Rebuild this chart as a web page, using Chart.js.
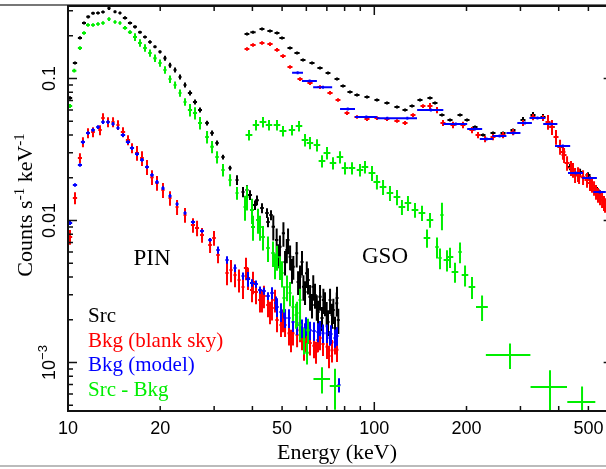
<!DOCTYPE html>
<html>
<head>
<meta charset="utf-8">
<script src="https://cdn.jsdelivr.net/npm/chart.js@4.4.1/dist/chart.umd.min.js"></script>
<style>
html, body { margin: 0; padding: 0; background: #fff; overflow: hidden; }
canvas { display: block; }
</style>
</head>
<body>
<canvas id="spec" width="620" height="469"></canvas>
<script>
// ---- PIN, source (black)
const srcPinKeV = [10.15,10.54,10.94,11.28,11.64,12.07,12.53,13.01,13.61,14.24,14.78,15.35,15.94,16.55,17.18,17.84,18.52,19.23,19.97,20.73,21.53,22.36,23.21,24.10,25.02,25.98,26.98,28.44,29.53,30.66,32.07,33.81,35.63,37.27,38.40,41.40,44.64,46.8,48.0,49.2,50.5,51.8,53.1,54.4,55.8,57.2,58.7,60.2,61.7,63.2,64.9,66.5,68.2,69.9,71.7,73.5,75.4,76.3,
  39.29,40.79,42.99,44.98,46.00,48.50,51.12,52.29,53.87,56.38,58.08,59.41,60.76,62.61,64.04,65.50,67.50,69.02,70.62,72.77,74.43,75.55];
const srcPinErrKeV = [0.17,0.17,0.17,0.17,0.17,0.17,0.17,0.17,0.17,0.17,0.17,0.25,0.25,0.25,0.25,0.25,0.25,0.25,0.25,0.25,0.25,0.25,0.25,0.25,0.4,0.4,0.4,0.4,0.4,0.4,0.4,0.4,0.4,0.4,0.4,0.6,0.6,0.6,0.6,0.6,0.6,0.6,0.6,0.6,0.6,0.6,0.6,0.8,0.8,0.8,0.8,0.8,0.8,0.8,0.8,0.8,0.8,0.8,
  0.6,0.6,0.6,0.6,0.6,0.6,0.6,0.6,0.6,0.6,0.6,0.6,0.8,0.8,0.8,0.8,0.8,0.8,0.8,0.8,0.8,0.8];
const srcPinCts = [0.0729,0.1285,0.193,0.246,0.272,0.288,0.289,0.294,0.312,0.295,0.289,0.267,0.246,0.231,0.212,0.196,0.181,0.167,0.154,0.139,0.124,0.115,0.1026,0.0900,0.0791,0.0684,0.0600,0.0486,0.0413,0.0352,0.0280,0.0234,0.0193,0.0159,0.0164,0.0139,0.0113,0.00904,0.00729,0.00654,0.00813,0.00620,0.00556,0.00473,0.00587,0.00402,0.00342,0.00425,0.00291,0.00342,0.00247,0.00291,0.00275,0.00222,0.00275,0.00234,0.00261,0.00199,
  0.01512,0.01285,0.01225,0.00976,0.01093,0.00571,0.00510,0.00729,0.00448,0.00369,0.00510,0.00314,0.00381,0.00254,0.00299,0.00227,0.00206,0.00262,0.00193,0.00216,0.00175,0.00285];
const srcPinErrCts = [0.002,0.003,0.005,0.006,0.007,0.007,0.007,0.007,0.008,0.007,0.007,0.007,0.006,0.006,0.005,0.005,0.005,0.004,0.004,0.0056,0.005,0.0046,0.0041,0.0036,0.0032,0.0027,0.0024,0.0019,0.0017,0.0014,0.0011,0.0009,0.0015,0.0013,0.0013,0.0011,0.0009,0.0018,0.0015,0.0013,0.0016,0.0012,0.0011,0.0009,0.0012,0.0008,0.0007,0.0009,0.0006,0.0007,0.0005,0.0006,0.00055,0.00045,0.00055,0.00047,0.0005,0.0004,
  0.0012,0.001,0.001,0.0008,0.0009,0.0011,0.001,0.0015,0.0009,0.0007,0.001,0.0006,0.0008,0.0005,0.0006,0.00045,0.0004,0.0005,0.0004,0.00043,0.00035,0.00057];

// ---- PIN, background from blank sky (red)
const skyPinKeV = [10.15,10.54,10.94,11.19,11.62,12.07,12.72,13.01,13.51,14.03,14.56,15.12,15.70,16.18,16.80,17.44,18.11,18.80,19.52,20.42,21.53,22.70,24.10,25.59,27.39,29.09,30.89,33.05,35.10,37.27,39.88,42.35,44.98,48.13,51.12,54.28,58.08,61.68,65.50,70.09,75.55,
  26.38,29.97,34.06,36.17,38.70,41.09,43.63,46.35,49.60,52.67,55.96,59.84,63.56,68.01,72.77,
  38.11,40.18,42.99,45.66,47.40,50.35,53.46,57.22,58.96,64.53,66.49,71.15,74.43];
const skyPinErrKeV = [0.17,0.17,0.17,0.17,0.17,0.17,0.17,0.17,0.17,0.17,0.17,0.25,0.25,0.25,0.25,0.25,0.25,0.25,0.25,0.25,0.25,0.25,0.25,0.4,0.4,0.4,0.4,0.4,0.4,0.4,0.6,0.6,0.6,0.6,0.6,0.6,0.6,0.8,0.8,0.8,0.8,
  0.4,0.4,0.4,0.4,0.6,0.6,0.6,0.6,0.6,0.6,0.6,0.8,0.8,0.8,0.8,
  0.6,0.6,0.6,0.6,0.6,0.6,0.6,0.6,0.6,0.8,0.8,0.8,0.8];
const skyPinCts = [0.00766,0.0144,0.0275,0.0357,0.0413,0.0420,0.0434,0.0527,0.0494,0.0494,0.0471,0.0420,0.0369,0.0324,0.0299,0.0275,0.0238,0.0202,0.0184,0.0164,0.0144,0.01245,0.01094,0.00929,0.00791,0.00671,0.00571,0.00427,0.00413,0.0034,0.00324,0.00275,0.00254,0.00199,0.00184,0.00161,0.00149,0.00137,0.00144,0.00129,0.00123,
  0.00886,0.00753,0.00448,0.00381,0.00394,0.00314,0.00294,0.00242,0.00184,0.00161,0.00156,0.00144,0.00131,0.00135,0.00122,
  0.00463,0.00369,0.00275,0.00227,0.00275,0.00199,0.00144,0.00169,0.00126,0.00119,0.00149,0.00111,0.00139];
const skyPinErrCts = [0.0009,0.0014,0.0022,0.0029,0.0033,0.0034,0.0035,0.0042,0.004,0.004,0.0038,0.0034,0.003,0.0026,0.0036,0.0033,0.0029,0.0024,0.0022,0.002,0.0017,0.0015,0.0013,0.0011,0.00095,0.0008,0.0007,0.00077,0.00074,0.0006,0.00058,0.0005,0.00046,0.00036,0.00033,0.00029,0.00027,0.00025,0.00026,0.00023,0.00022,
  0.0011,0.0009,0.0008,0.0007,0.0007,0.00057,0.00053,0.00044,0.00033,0.00029,0.00028,0.00026,0.00024,0.00024,0.00022,
  0.00083,0.00066,0.0005,0.00041,0.0005,0.00036,0.00026,0.0003,0.00023,0.00021,0.00027,0.0002,0.00025];

// ---- PIN, background model (blue)
const modelPinKeV = [10.15,10.54,10.94,11.19,11.62,12.07,12.53,13.01,13.51,14.03,14.56,15.12,15.70,16.18,16.80,17.44,18.11,18.80,19.52,20.42,21.53,22.70,24.10,25.59,27.39,29.09,30.89,33.05,35.10,37.27,39.88,42.35,44.98,48.13,51.12,54.28,58.08,61.68,65.50,70.09,75.55,76.69,
  41.09,43.63,46.35,49.60,52.67,55.96,59.84,63.56,68.01,72.23,74.43,
  38.70,47.76,50.74,57.22,59.41,66.49,71.69];
const modelPinErrKeV = [0.17,0.17,0.17,0.17,0.17,0.17,0.17,0.17,0.17,0.17,0.17,0.25,0.25,0.25,0.25,0.25,0.25,0.25,0.25,0.25,0.25,0.25,0.25,0.4,0.4,0.4,0.4,0.4,0.4,0.4,0.6,0.6,0.6,0.6,0.6,0.6,0.6,0.8,0.8,0.8,0.8,0.3,
  0.6,0.6,0.6,0.6,0.6,0.6,0.8,0.8,0.8,0.8,0.8,
  0.6,0.6,0.6,0.6,0.6,0.8,0.8];
const modelPinCts = [0.0096,0.0178,0.0246,0.0357,0.0413,0.0434,0.0455,0.0494,0.0494,0.0479,0.0448,0.0400,0.0357,0.0324,0.0294,0.0267,0.0238,0.0209,0.0187,0.0169,0.0149,0.01306,0.0113,0.00976,0.00844,0.0073,0.0062,0.00527,0.00462,0.00406,0.00363,0.00324,0.00294,0.00246,0.00206,0.00193,0.00175,0.00169,0.00164,0.00161,0.00154,0.000695,
  0.00357,0.00319,0.00309,0.00227,0.00206,0.00184,0.00181,0.00167,0.00161,0.00159,0.00149,
  0.00387,0.00262,0.00234,0.0019,0.00169,0.00175,0.00149];
const modelPinErrCts = [0.0003,0.0005,0.0007,0.0011,0.0012,0.0013,0.0014,0.0015,0.0015,0.0014,0.0013,0.0012,0.0011,0.001,0.0009,0.0008,0.0007,0.0006,0.0006,0.0005,0.00045,0.0004,0.00034,0.0003,0.00025,0.00022,0.00037,0.00032,0.00028,0.00024,0.00022,0.00019,0.00018,0.00037,0.00031,0.00029,0.00026,0.00025,0.00025,0.00024,0.00023,0.00008,
  0.00021,0.00019,0.0003,0.00034,0.00031,0.00028,0.00027,0.00025,0.00024,0.00024,0.00022,
  0.00046,0.0003,0.00028,0.00023,0.0002,0.00021,0.00018];

// ---- PIN, source minus background (green)
const netPinKeV = [10.15,10.48,10.94,11.28,11.62,12.07,12.53,13.01,13.61,14.24,14.78,15.35,15.94,16.55,17.18,17.84,18.52,19.23,19.97,20.73,21.53,22.36,23.21,24.10,25.02,25.98,26.98,28.44,29.53,30.66,32.07,33.81,35.63,37.84,40.18,43.32,46.70,49.23,51.88,54.28,57.22,60.31,67.50,74.43,
  38.40,39.88,42.35,48.13,49.98,53.06,55.96,57.22,60.76,
  41.72,44.98,47.40,50.74,55.54,58.96];
const netPinErrKeV = [0.17,0.17,0.17,0.17,0.17,0.17,0.17,0.17,0.17,0.17,0.17,0.25,0.25,0.25,0.25,0.25,0.25,0.25,0.25,0.25,0.25,0.25,0.25,0.25,0.4,0.4,0.4,0.4,0.4,0.4,0.4,0.4,0.4,0.4,0.6,0.6,0.6,0.6,0.6,0.6,0.6,0.8,4.2,2.9,
  0.4,0.6,0.6,0.6,0.6,0.6,0.6,0.6,0.8,
  0.6,0.6,0.6,0.6,0.6,0.6];
const netPinCts = [0.0640,0.1135,0.164,0.209,0.238,0.238,0.242,0.246,0.262,0.250,0.246,0.227,0.212,0.196,0.178,0.164,0.151,0.139,0.1285,0.115,0.099,0.0900,0.0791,0.0684,0.0600,0.0571,0.0486,0.0387,0.0330,0.0280,0.0227,0.0193,0.0156,0.01245,0.0090,0.00766,0.0059,0.00471,0.0034,0.00246,0.00184,0.00117,0.000766,0.000684,
  0.01464,0.01185,0.00900,0.00553,0.00427,0.00309,0.00223,0.00275,0.00169,
  0.01008,0.0064,0.00486,0.00285,0.00216,0.00144];
const netPinErrCts = [0.002,0.0034,0.005,0.006,0.007,0.007,0.007,0.007,0.008,0.0075,0.0074,0.0068,0.0064,0.012,0.011,0.01,0.009,0.0083,0.0077,0.0069,0.0059,0.0054,0.0047,0.0041,0.006,0.0057,0.0049,0.0039,0.0033,0.0028,0.0023,0.0019,0.0016,0.0025,0.0018,0.0015,0.0012,0.0009,0.0007,0.0005,0.0004,0.0002,0.00016,0.00022,
  0.0029,0.0024,0.0018,0.0011,0.0009,0.0006,0.00045,0.00055,0.00034,
  0.002,0.0013,0.001,0.0006,0.00043,0.0003];

// ---- GSO, source (black)
const srcGsoKeV = [38.40,40.18,42.99,45.66,48.13,49.98,53.06,55.96,58.52,62.61,66.49,70.62,75.55,79.04,83.31,87.81,94.66,102.0,110.0,118.6,126.0,132.8,141.0,152.0,157.8,166.3,176.7,190.5,200.8,213.2,226.4,244.1,263.2,283.7,305.8,329.7,355.5,380.4,404.0,435.6,469.6,498.6,533.4,558.1];
const srcGsoErrKeV = [0.7,0.8,0.8,0.9,0.9,1.0,1.0,1.1,1.1,1.2,1.3,1.3,1.4,1.5,1.6,1.7,1.8,1.9,2.1,2.3,2.4,2.5,2.7,2.9,3.0,3.2,3.4,3.6,3.8,4.1,4.3,4.6,5.0,5.4,5.8,6.3,6.8,7.2,7.7,8.3,8.9,9.5,10,10.6];
const srcGsoCts = [0.2056,0.212,0.2234,0.2163,0.209,0.193,0.164,0.151,0.135,0.1285,0.1186,0.1094,0.0992,0.0885,0.0804,0.0766,0.0741,0.0706,0.0671,0.0630,0.0600,0.0640,0.0706,0.0729,0.0671,0.0553,0.0510,0.0553,0.0510,0.0455,0.0400,0.0413,0.0413,0.0434,0.0510,0.0553,0.0536,0.0455,0.0330,0.0238,0.0220,0.0209,0.0164,0.0139];
const srcGsoErrCts = [0.0041,0.0042,0.0045,0.0043,0.0042,0.0039,0.0033,0.003,0.0027,0.0026,0.0024,0.0022,0.002,0.0018,0.0016,0.0015,0.0015,0.0014,0.0013,0.0013,0.0012,0.0013,0.0014,0.0015,0.0013,0.0011,0.001,0.0011,0.001,0.0009,0.0008,0.0008,0.0008,0.0009,0.0026,0.0028,0.0027,0.0023,0.0017,0.0012,0.0011,0.001,0.0008,0.0007];

// ---- GSO, background from blank sky (red)
const skyGsoKeV = [38.40,40.18,42.99,45.66,48.13,50.35,53.06,57.22,61.68,66.49,71.69,76.12,81.45,87.81,94.66,102.0,110.0,118.6,126.0,133.8,144.2,152.0,160.2,167.6,180.7,194.8,208.4,218.1,229.9,244.1,263.2,283.7,305.8,329.7,355.5,380.4,404.0,425.9,452.3,480.3,513.8,545.6,566.6,
  392.0,416.4,438.8,466.1,494.9,529.5,554.0,
  369.1,413.0,445.4,462.4,506.1,521.7,537.5,562.3];
const skyGsoErrKeV = [0.7,0.8,0.8,0.9,0.9,1.0,1.0,1.1,1.2,1.3,1.4,1.4,1.5,1.7,1.8,1.9,2.1,2.3,2.4,2.5,2.7,2.9,3.0,3.2,3.4,3.7,4.0,4.1,4.4,4.6,5.0,5.4,5.8,6.3,6.8,7.2,7.7,8.1,8.6,9.1,9.8,10.4,10.8,
  7.4,7.9,8.3,8.9,9.4,10.1,10.5,
  7.0,7.8,8.4,8.8,9.6,9.9,10.2,10.7];
const skyGsoCts = [0.1614,0.1722,0.178,0.175,0.159,0.144,0.1205,0.0992,0.0929,0.0871,0.0791,0.0706,0.0571,0.0536,0.0519,0.0527,0.0519,0.0502,0.0486,0.0553,0.0640,0.0640,0.0600,0.0486,0.0471,0.0471,0.0434,0.0400,0.0375,0.0387,0.0400,0.0420,0.0486,0.0536,0.0527,0.0455,0.0330,0.0254,0.0209,0.0202,0.0178,0.01462,0.01285,
  0.0387,0.0289,0.0234,0.0206,0.0193,0.0159,0.01394,
  0.0494,0.0304,0.0227,0.0212,0.01836,0.01693,0.01512,0.01328];
const skyGsoErrCts = [0.0048,0.0052,0.0053,0.0053,0.0048,0.0043,0.0036,0.003,0.0028,0.0026,0.0024,0.0021,0.0017,0.0016,0.0016,0.0016,0.0016,0.0015,0.0015,0.0017,0.0019,0.0032,0.003,0.0024,0.0024,0.0024,0.0022,0.002,0.0019,0.0019,0.002,0.0021,0.0024,0.0027,0.0026,0.0055,0.004,0.003,0.0025,0.0024,0.0021,0.0018,0.0015,
  0.0046,0.0035,0.0028,0.0025,0.0023,0.0019,0.0017,
  0.0059,0.0036,0.0027,0.0025,0.0022,0.002,0.0018,0.0016];

// ---- GSO, background model (blue)
const modelGsoKeV = [56.2,61.5,68.0,81.9,94.2,110.3,128.2,153,184.5,213,232.5,256.5,285,310,341,376,412.5,454.5,505,544.5];
const modelGsoErrKeV = [2.3,3.45,4.85,4.6,7.75,8.3,9.65,15,16.5,12,11.5,13.5,15,17,20,20,23.5,25.5,28,25.5];
const modelGsoCts = [0.1099,0.0960,0.0867,0.0610,0.0536,0.0525,0.0525,0.0600,0.0479,0.0441,0.0375,0.0394,0.0413,0.0486,0.0527,0.0479,0.0335,0.0216,0.0199,0.0159];
const modelGsoErrCts = [0.0011,0.001,0.0009,0.0006,0.0005,0.0005,0.0005,0.0006,0.0005,0.0004,0.0004,0.0004,0.0004,0.0005,0.0005,0.0005,0.0003,0.0002,0.0002,0.0002];

// ---- GSO, source minus background (green)
const netGsoKeV = [38.99,41.09,43.32,45.32,48.13,50.35,53.87,56.79,59.41,61.68,65.01,67.50,70.09,73.32,77.27,80.24,84.57,89.82,93.24,98.29,102.0,106.8,112.5,118.6,123.1,128.8,135.8,143.1,152.0,160.2,163.9,166.3,172.7,176.7,183.4,190.5,197.8,208.4,224.8,277.3,374.7,476.7,148.6];
const netGsoErrKeV = [1.0,1.0,1.1,1.1,1.2,1.3,1.3,1.4,1.5,1.5,1.6,1.7,1.8,1.8,1.9,2.0,2.1,2.2,2.3,2.5,2.6,2.7,2.8,3.0,3.1,3.2,3.4,3.6,3.8,2.0,2.0,2.0,4.3,4.4,4.6,2.4,4.9,5.2,10,46,51,50,3.7];
const netGsoCts = [0.0400,0.0471,0.0494,0.0471,0.0471,0.0427,0.0434,0.0462,0.0369,0.0352,0.0340,0.0262,0.0299,0.0254,0.0280,0.0234,0.0234,0.0227,0.0238,0.0216,0.0187,0.0172,0.0156,0.01462,0.01245,0.01327,0.01186,0.0113,0.0101,0.0065,0.00544,0.01094,0.00527,0.00553,0.00434,0.0060,0.00413,0.0034,0.00246,0.00113,0.000671,0.000527,0.00753];
const netGsoErrCts = [0.0034,0.004,0.0042,0.004,0.004,0.0036,0.0037,0.0039,0.0037,0.0035,0.0034,0.0026,0.003,0.0025,0.0028,0.0023,0.0023,0.0023,0.0024,0.0026,0.0022,0.0021,0.0019,0.0018,0.0015,0.0016,0.0014,0.0014,0.0012,0.0011,0.0009,0.0024,0.0009,0.0009,0.0007,0.001,0.0007,0.0006,0.0005,0.00023,0.00021,0.00015,0.0011];

// ---- axes
const energyMin = 10, energyMax = 600;
const countsMin = 4.555e-4, countsMax = 0.324;
const xMajorTicks = [10, 100];
const xMinorTicks = [20, 30, 40, 50, 60, 70, 80, 90, 200, 300, 400, 500, 600];
const xTickLabels = [10, 20, 50, 100, 200, 500];
const yMajorTicks = [0.001, 0.01, 0.1];
const yMinorTicks = [5e-4, 6e-4, 7e-4, 8e-4, 9e-4, 0.002, 0.003, 0.004, 0.005, 0.006, 0.007, 0.008, 0.009, 0.02, 0.03, 0.04, 0.05, 0.06, 0.07, 0.08, 0.09, 0.2, 0.3];
const yTickLabels = [['0.1', ''], ['0.01', ''], ['10', '\u22123']];

const legendNames = ['Src', 'Bkg (blank sky)', 'Bkg (model)', 'Src - Bkg'];
const colors = ['#000000', '#ff0000', '#0000ff', '#00ee00'];

function pts(e, c) {
    return e.map((v, i) => ({ x: v, y: c[i] }));
}

function series(e, de, c, dc, color) {
    return {
        data: pts(e, c),
        errX: de,
        errY: dc,
        borderColor: color,
        backgroundColor: color,
        pointRadius: 0,
        showLine: false
    };
}

// crosses: horizontal bar = energy bin, vertical bar = count error
const errorBars = {
    id: 'errorBars',
    afterDatasetsDraw(chart) {
        const ctx = chart.ctx;
        const xs = chart.scales.x, ys = chart.scales.y;
        const a = chart.chartArea;
        ctx.save();
        ctx.beginPath();
        ctx.rect(a.left, a.top, a.right - a.left, a.bottom - a.top);
        ctx.clip();
        ctx.lineWidth = 2;
        chart.data.datasets.forEach(ds => {
            ctx.strokeStyle = ds.borderColor;
            ctx.beginPath();
            ds.data.forEach((p, i) => {
                const px = xs.getPixelForValue(p.x);
                const py = ys.getPixelForValue(p.y);
                const lo = p.y - ds.errY[i] > 0 ? p.y - ds.errY[i] : countsMin / 10;
                const xl = xs.getPixelForValue(p.x - ds.errX[i]);
                const xr = xs.getPixelForValue(p.x + ds.errX[i]);
                const yt = ys.getPixelForValue(p.y + ds.errY[i]);
                const yb = ys.getPixelForValue(lo);
                ctx.moveTo(Math.min(xl, px - 1.5), py);
                ctx.lineTo(Math.max(xr, px + 1.5), py);
                ctx.moveTo(px, Math.min(yt, py - 1.5));
                ctx.lineTo(px, Math.max(yb, py + 1.5));
            });
            ctx.stroke();
        });
        ctx.restore();
    }
};

function drawSup(ctx, parts, x, y, big, small, align) {
    let w = 0;
    parts.forEach(p => {
        ctx.font = (p.sup ? small : big) + 'px "Liberation Serif", serif';
        w += ctx.measureText(p.t).width;
    });
    let cx = align === 'center' ? x - w / 2 : x;
    parts.forEach(p => {
        ctx.font = (p.sup ? small : big) + 'px "Liberation Serif", serif';
        ctx.fillText(p.t, cx, p.sup ? y - big * 0.38 : y);
        cx += ctx.measureText(p.t).width;
    });
}

const frame = {
    id: 'frame',
    afterDraw(chart) {
        const ctx = chart.ctx;
        const xs = chart.scales.x, ys = chart.scales.y;
        const a = chart.chartArea;
        ctx.save();

        // page borders
        ctx.strokeStyle = '#777';
        ctx.lineWidth = 2;
        ctx.beginPath();
        ctx.moveTo(0, a.top - 1); ctx.lineTo(620, a.top - 1);
        ctx.stroke();
        ctx.strokeStyle = '#bbb';
        ctx.beginPath();
        ctx.moveTo(0, 466); ctx.lineTo(620, 466);
        ctx.stroke();

        ctx.strokeStyle = '#111';
        ctx.lineWidth = 2;
        ctx.strokeRect(a.left, a.top, a.right - a.left, a.bottom - a.top);

        ctx.lineWidth = 1.5;
        ctx.beginPath();
        const xt = (v, len) => {
            const px = xs.getPixelForValue(v);
            ctx.moveTo(px, a.bottom); ctx.lineTo(px, a.bottom - len);
            ctx.moveTo(px, a.top); ctx.lineTo(px, a.top + len);
        };
        const yt = (v, len) => {
            const py = ys.getPixelForValue(v);
            ctx.moveTo(a.left, py); ctx.lineTo(a.left + len, py);
            ctx.moveTo(a.right, py); ctx.lineTo(a.right - len, py);
        };
        xMajorTicks.forEach(v => xt(v, 9));
        xMinorTicks.forEach(v => xt(v, 5));
        yMajorTicks.forEach(v => yt(v, 9));
        yMinorTicks.forEach(v => yt(v, 5));
        ctx.stroke();

        ctx.fillStyle = '#000';
        ctx.font = '18px "Liberation Sans", Arial, sans-serif';
        ctx.textAlign = 'center';
        ctx.textBaseline = 'middle';
        xTickLabels.forEach(v => {
            ctx.fillText(String(v), xs.getPixelForValue(v), 429);
        });

        yMajorTicks.slice().reverse().forEach((v, i) => {
            const py = ys.getPixelForValue(v);
            const lab = yTickLabels[i];
            ctx.save();
            ctx.translate(50, py);
            ctx.rotate(-Math.PI / 2);
            ctx.font = '18px "Liberation Sans", Arial, sans-serif';
            const w1 = ctx.measureText(lab[0]).width;
            ctx.font = '13px "Liberation Sans", Arial, sans-serif';
            const w2 = ctx.measureText(lab[1]).width;
            ctx.textAlign = 'left';
            ctx.font = '18px "Liberation Sans", Arial, sans-serif';
            ctx.fillText(lab[0], -(w1 + w2) / 2, 0);
            ctx.font = '13px "Liberation Sans", Arial, sans-serif';
            ctx.fillText(lab[1], -(w1 + w2) / 2 + w1, -7);
            ctx.restore();
        });

        // axis titles
        ctx.textBaseline = 'alphabetic';
        ctx.textAlign = 'left';
        drawSup(ctx, [{ t: 'Energy (keV)' }], 337, 459, 22, 15, 'center');
        ctx.save();
        ctx.translate(32, 205);
        ctx.rotate(-Math.PI / 2);
        drawSup(ctx, [{ t: 'Counts s' }, { t: '-1', sup: true }, { t: ' keV' }, { t: '-1', sup: true }], 0, 0, 22, 15, 'center');
        ctx.restore();

        // detector labels
        ctx.font = '23px "Liberation Serif", serif';
        ctx.textAlign = 'center';
        ctx.fillText('PIN', 152, 265);
        ctx.fillText('GSO', 385, 263);

        // legend
        ctx.font = '21px "Liberation Serif", serif';
        ctx.textAlign = 'left';
        legendNames.forEach((n, i) => {
            ctx.fillStyle = colors[i];
            ctx.fillText(n, 88, 322 + i * 24.5);
        });
        ctx.restore();
    }
};

new Chart(document.getElementById('spec'), {
    type: 'scatter',
    data: {
        datasets: [
            series(srcPinKeV, srcPinErrKeV, srcPinCts, srcPinErrCts, colors[0]),
            series(srcGsoKeV, srcGsoErrKeV, srcGsoCts, srcGsoErrCts, colors[0]),
            series(skyPinKeV, skyPinErrKeV, skyPinCts, skyPinErrCts, colors[1]),
            series(skyGsoKeV, skyGsoErrKeV, skyGsoCts, skyGsoErrCts, colors[1]),
            series(modelPinKeV, modelPinErrKeV, modelPinCts, modelPinErrCts, colors[2]),
            series(modelGsoKeV, modelGsoErrKeV, modelGsoCts, modelGsoErrCts, colors[2]),
            series(netPinKeV, netPinErrKeV, netPinCts, netPinErrCts, colors[3]),
            series(netGsoKeV, netGsoErrKeV, netGsoCts, netGsoErrCts, colors[3])
        ]
    },
    options: {
        responsive: false,
        animation: false,
        events: [],
        layout: { padding: { left: 68, top: 6, right: 7.35, bottom: 58 } },
        plugins: { legend: { display: false }, tooltip: { enabled: false } },
        scales: {
            x: { type: 'logarithmic', min: energyMin, max: energyMax, display: false },
            y: { type: 'logarithmic', min: countsMin, max: countsMax, display: false }
        }
    },
    plugins: [errorBars, frame]
});
</script>
</body>
</html>
